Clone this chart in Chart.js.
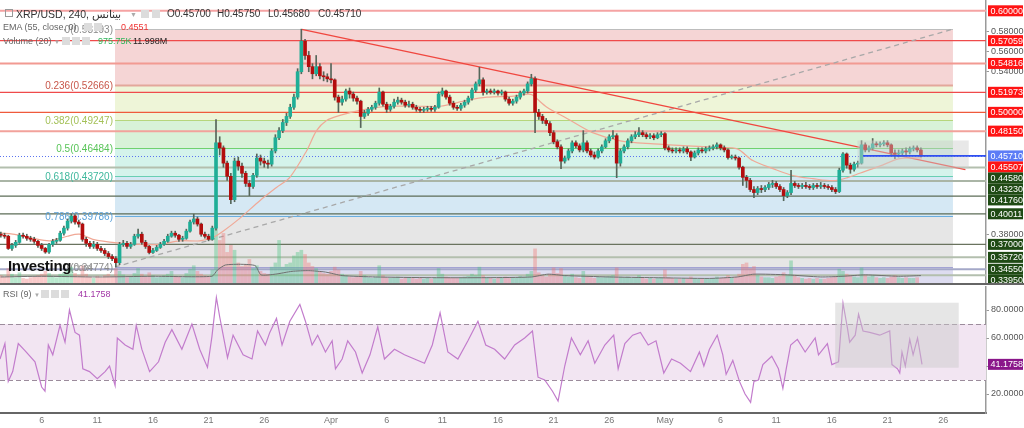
<!DOCTYPE html>
<html lang="en">
<head>
<meta charset="utf-8">
<title>XRP/USD 240</title>
<script src="https://cdn.jsdelivr.net/npm/chart.js@4.4.1/dist/chart.umd.min.js"></script>
<style>
  html, body { margin: 0; padding: 0; background: #fff; }
  #wrap { position: relative; width: 1024px; height: 428px; overflow: hidden; font-family: "Liberation Sans", Arial, sans-serif; }
  canvas { position: absolute; left: 0; }
  #priceChart { top: 0; }
  #rsiChart { top: 284px; }
  .txt { position: absolute; white-space: nowrap; line-height: 1; }
  .ico { position: absolute; width: 8px; height: 8px; background: #dcdcdc; }
  .sep { position: absolute; left: 0; height: 2px; background: #666; }
</style>
</head>
<body>
<div id="wrap">
  <canvas id="priceChart" width="1024" height="284"></canvas>
  <canvas id="rsiChart" width="1024" height="144"></canvas>
  <div class="sep" style="top:283px;width:1024px"></div>

  <!-- header -->
  <div class="txt" style="left:5px;top:9px;width:6px;height:6px;border:1px solid #999"></div>
  <div class="txt" style="left:16px;top:9px;font-size:10.5px;color:#333">XRP/USD, 240, <span dir="rtl" style="unicode-bidi:isolate">بينانس</span></div>
  <div class="txt" style="left:130px;top:11px;font-size:7px;color:#aaa">▼</div>
  <div class="ico" style="left:141px;top:10px"></div>
  <div class="ico" style="left:152px;top:10px"></div>
  <div class="txt" style="left:167px;top:9px;font-size:10px;color:#333">O0.45700</div>
  <div class="txt" style="left:217px;top:9px;font-size:10px;color:#333">H0.45750</div>
  <div class="txt" style="left:268px;top:9px;font-size:10px;color:#333">L0.45680</div>
  <div class="txt" style="left:318px;top:9px;font-size:10px;color:#333">C0.45710</div>

  <div class="txt" style="left:3px;top:23px;font-size:9px;color:#666">EMA (55, close, 0)</div>
  <div class="ico" style="left:84px;top:23px"></div>
  <div class="ico" style="left:94px;top:23px"></div>
  <div class="txt" style="left:121px;top:23px;font-size:9px;color:#f03030">0.4551</div>

  <div class="txt" style="left:3px;top:37px;font-size:9px;color:#666">Volume (20) <span style="color:#aaa;font-size:6px">▼</span></div>
  <div class="ico" style="left:62px;top:37px"></div>
  <div class="ico" style="left:72px;top:37px"></div>
  <div class="ico" style="left:82px;top:37px"></div>
  <div class="txt" style="left:98px;top:37px;font-size:9px;color:#2fb45a">975.75K</div>
  <div class="txt" style="left:133px;top:37px;font-size:9px;color:#222">11.998M</div>

  <div class="txt" style="left:8px;top:258px;font-size:15px;font-weight:bold;color:#111;letter-spacing:-0.3px">Investing<span style="font-size:10px;font-weight:normal;color:#999">.com</span></div>

  <!-- RSI header -->
  <div class="txt" style="left:3px;top:290px;font-size:9px;color:#666">RSI (9) <span style="color:#aaa;font-size:6px">▼</span></div>
  <div class="ico" style="left:41px;top:290px"></div>
  <div class="ico" style="left:51px;top:290px"></div>
  <div class="ico" style="left:61px;top:290px"></div>
  <div class="txt" style="left:78px;top:290px;font-size:9px;color:#a236a6">41.1758</div>
</div>

<script>
// time axis: days counted from 1 March 00:00, candles every 8 hours
const startDay = 4 / 3;
const stepDay = 1 / 3;
const firstOpen = 0.380;

const closes = [
  0.379,0.378,0.366, 0.369,0.372,0.379, 0.378,0.376,0.375, 0.373,0.369,0.366, 0.3625,0.370,0.373,
  0.374,0.381,0.386, 0.393,0.398,0.392, 0.390,0.375,0.371, 0.368,0.370,0.366, 0.364,0.361,0.358,
  0.356,0.352,0.370, 0.371,0.368,0.370, 0.378,0.380,0.372, 0.368,0.362,0.364, 0.367,0.370,0.373,
  0.378,0.381,0.379, 0.375,0.376,0.383, 0.392,0.395,0.390, 0.380,0.378,0.375, 0.386,0.470,0.465,
  0.450,0.437,0.414, 0.452,0.447,0.440, 0.430,0.427,0.438, 0.455,0.452,0.450, 0.449,0.462,0.475,
  0.482,0.490,0.496, 0.505,0.515,0.540, 0.570,0.556,0.545, 0.538,0.545,0.536, 0.535,0.533,0.532,
  0.515,0.510,0.513, 0.521,0.518,0.514, 0.511,0.496,0.499, 0.503,0.505,0.509, 0.520,0.508,0.503,
  0.506,0.510,0.512, 0.510,0.507,0.508, 0.505,0.503,0.502, 0.503,0.504,0.503, 0.505,0.518,0.521,
  0.515,0.509,0.505, 0.504,0.507,0.510, 0.514,0.522,0.528, 0.532,0.520,0.521, 0.520,0.521,0.519,
  0.520,0.513,0.509, 0.511,0.515,0.519, 0.521,0.528,0.533, 0.500,0.496,0.492, 0.489,0.480,0.471,
  0.466,0.452,0.455, 0.462,0.470,0.467, 0.463,0.470,0.462, 0.458,0.456,0.462, 0.466,0.472,0.476,
  0.477,0.450,0.462, 0.466,0.472,0.476, 0.478,0.480,0.478, 0.476,0.477,0.475, 0.478,0.479,0.465,
  0.463,0.462,0.463, 0.462,0.464,0.461, 0.456,0.460,0.463, 0.462,0.464,0.465, 0.466,0.468,0.465,
  0.463,0.4555,0.456, 0.455,0.446,0.436, 0.433,0.424,0.421, 0.425,0.424,0.426, 0.429,0.430,0.427,
  0.424,0.418,0.421, 0.430,0.428,0.427, 0.428,0.427,0.426, 0.428,0.427,0.428, 0.427,0.426,0.424,
  0.422,0.443,0.459, 0.448,0.444,0.449, 0.450,0.468,0.463, 0.465,0.469,0.468, 0.469,0.470,0.468,
  0.460,0.459,0.460, 0.462,0.461,0.464, 0.465,0.463,0.4571
];

const highs = [
  0.382,0.381,0.379, 0.371,0.374,0.381, 0.381,0.380,0.378, 0.377,0.374,0.371, 0.367,0.371,0.375,
  0.376,0.383,0.388, 0.395,0.400,0.399, 0.394,0.391,0.377, 0.373,0.373,0.372, 0.368,0.366,0.363,
  0.360,0.358,0.372, 0.374,0.373,0.372, 0.380,0.385,0.382, 0.374,0.369,0.366, 0.369,0.372,0.375,
  0.380,0.383,0.383, 0.380,0.378,0.385, 0.394,0.3997,0.397, 0.391,0.382,0.380, 0.388,0.493,0.476,
  0.467,0.452,0.440, 0.455,0.456,0.450, 0.442,0.433,0.440, 0.459,0.458,0.455, 0.453,0.464,0.478,
  0.485,0.493,0.499, 0.508,0.518,0.543, 0.5819,0.572,0.560, 0.548,0.556,0.548, 0.540,0.538,0.548,
  0.533,0.517,0.516, 0.523,0.524,0.520, 0.516,0.512,0.502, 0.505,0.507,0.511, 0.524,0.521,0.510,
  0.508,0.513,0.515, 0.514,0.512,0.511, 0.510,0.507,0.505, 0.505,0.506,0.506, 0.507,0.520,0.524,
  0.522,0.517,0.511, 0.507,0.509,0.512, 0.516,0.524,0.530, 0.5444,0.534,0.523, 0.523,0.523,0.522,
  0.522,0.521,0.515, 0.513,0.517,0.521, 0.523,0.530,0.5375, 0.535,0.503,0.498, 0.494,0.491,0.482,
  0.473,0.468,0.457, 0.464,0.472,0.472, 0.469,0.482,0.472, 0.464,0.461,0.464, 0.468,0.474,0.478,
  0.482,0.479,0.464, 0.468,0.474,0.478, 0.481,0.485,0.482, 0.480,0.479,0.479, 0.480,0.481,0.480,
  0.467,0.465,0.465, 0.465,0.466,0.466, 0.462,0.462,0.465, 0.465,0.466,0.467, 0.468,0.470,0.469,
  0.467,0.464,0.458, 0.458,0.456,0.447, 0.438,0.435,0.427, 0.427,0.428,0.428, 0.431,0.433,0.432,
  0.429,0.426,0.423, 0.443,0.432,0.430, 0.430,0.431,0.429, 0.430,0.430,0.431, 0.430,0.429,0.428,
  0.426,0.445,0.4604, 0.460,0.450,0.451, 0.452,0.472,0.470, 0.467,0.4742,0.471, 0.471,0.472,0.472,
  0.469,0.463,0.463, 0.464,0.465,0.466, 0.467,0.467,0.465
];

const lows = [
  0.377,0.376,0.365, 0.364,0.367,0.371, 0.376,0.374,0.373, 0.371,0.367,0.364, 0.3612,0.361,0.368,
  0.371,0.373,0.379, 0.384,0.391,0.390, 0.387,0.373,0.368, 0.366,0.366,0.364, 0.362,0.359,0.356,
  0.354,0.3478,0.350, 0.368,0.366,0.366, 0.369,0.376,0.370, 0.366,0.3606,0.361, 0.363,0.366,0.369,
  0.372,0.377,0.377, 0.373,0.373,0.375, 0.382,0.390,0.388, 0.378,0.376,0.3735, 0.374,0.384,0.458,
  0.446,0.433,0.410, 0.412,0.443,0.436, 0.427,0.418,0.425, 0.436,0.448,0.446, 0.445,0.447,0.460,
  0.473,0.480,0.487, 0.494,0.503,0.513, 0.538,0.552,0.540, 0.533,0.536,0.533, 0.531,0.530,0.529,
  0.512,0.500,0.507, 0.511,0.514,0.511, 0.508,0.485,0.494, 0.497,0.501,0.503, 0.507,0.506,0.500,
  0.501,0.504,0.508, 0.508,0.505,0.505, 0.503,0.501,0.500, 0.500,0.501,0.501, 0.501,0.504,0.516,
  0.513,0.507,0.503, 0.502,0.502,0.505, 0.508,0.512,0.520, 0.526,0.517,0.518, 0.518,0.518,0.517,
  0.517,0.511,0.507, 0.507,0.509,0.513, 0.517,0.519,0.526, 0.480,0.493,0.489, 0.487,0.477,0.469,
  0.464,0.4446,0.450, 0.453,0.460,0.465, 0.461,0.461,0.460, 0.456,0.454,0.455, 0.460,0.465,0.470,
  0.474,0.4357,0.447, 0.460,0.464,0.470, 0.474,0.476,0.476, 0.474,0.474,0.473, 0.474,0.476,0.463,
  0.461,0.460,0.460, 0.460,0.460,0.459, 0.4525,0.455,0.458, 0.460,0.460,0.462, 0.463,0.464,0.463,
  0.461,0.454,0.454, 0.453,0.444,0.428, 0.426,0.422,0.416, 0.419,0.421,0.422, 0.424,0.426,0.425,
  0.422,0.413,0.416, 0.419,0.426,0.425, 0.425,0.425,0.424, 0.424,0.425,0.425, 0.425,0.424,0.422,
  0.420,0.421,0.441, 0.445,0.440,0.442, 0.446,0.449,0.461, 0.461,0.463,0.466, 0.466,0.467,0.466,
  0.458,0.4545,0.456, 0.458,0.458,0.459, 0.462,0.461,0.456
];

// volume in millions
const volumes = [
  12,10,22, 14,9,16, 8,7,9, 10,12,14, 18,15,11, 9,14,16, 20,24,15, 12,26,14, 10,8,11, 9,12,14,
  11,22,18, 13,9,10, 15,22,14, 10,16,12, 9,10,12, 14,18,11, 10,9,15, 21,26,18, 14,12,11, 20,100,62,
  72,45,55, 48,30,25, 28,35,22, 26,18,15, 14,24,30, 62,24,28, 30,40,45, 48,42,30, 25,22,18, 15,14,18,
  24,20,14, 12,10,9, 10,18,12, 9,8,10, 26,12,9, 8,9,10, 7,8,9, 8,7,9, 7,8,7, 9,22,14,
  10,9,8, 8,9,10, 11,14,12, 24,12,9, 8,7,8, 9,10,8, 8,9,11, 10,14,18, 50,16,12, 10,14,23,
  15,22,12, 10,14,9, 8,18,10, 9,8,10, 9,10,11, 12,23,10, 9,10,8, 9,12,8, 7,8,7, 8,9,20,
  9,8,7, 7,8,7, 10,8,7, 7,8,7, 8,10,8, 9,12,9, 10,14,28, 30,22,25, 12,10,9, 9,8,10,
  11,16,12, 33,12,9, 8,7,8, 7,8,7, 7,8,9, 10,21,18, 14,12,10, 9,23,12, 10,12,9, 8,9,8,
  10,12,9, 8,9,8, 8,9,1
];

const volMaDays = [1.3, 5, 10, 15, 20.3, 20.8, 21.5, 23, 24.2, 24.7, 26, 27.5, 29, 30.5, 32, 35, 40, 45, 49, 50.5, 52, 56, 60, 65, 67.5, 69, 72, 75, 77, 79, 82, 84];
const volMaValues = [10, 11, 10, 11, 11, 20, 27, 28, 26, 13, 14, 18, 19, 17, 12, 10, 9, 9, 10, 14, 12, 10, 9, 8, 10, 14, 13, 10, 11, 13, 11, 12];

const emaDays = [1.26, 2.4, 4.2, 5.75, 7.3, 8.4, 9.6, 11.8, 13.8, 15.6, 17.4, 19.2, 20.4, 21.3, 22.8, 24.6, 26.1, 27.3, 28.8, 29.7,
  30.6, 31.8, 33.6, 36.0, 38.7, 40.8, 43.2, 45.0, 47.4, 48.7, 49.1, 50.4, 52.2, 54.5, 57.0, 60.0, 63.0, 65.9, 67.5, 68.9,
  70.7, 72.5, 74.3, 76.1, 77.4, 78.5, 80.3, 82.1, 84.1];
const emaValues = [0.381, 0.380, 0.376, 0.3735, 0.378, 0.380, 0.375, 0.3714, 0.370, 0.370, 0.3735, 0.3735, 0.377, 0.383, 0.3956, 0.413, 0.426, 0.436, 0.462, 0.482,
  0.492, 0.497, 0.502, 0.5059, 0.506, 0.506, 0.5118, 0.515, 0.516, 0.518, 0.517, 0.505, 0.494, 0.480, 0.472, 0.469, 0.467, 0.4654, 0.464, 0.4525,
  0.4446, 0.4377, 0.4347, 0.4327, 0.4357, 0.440, 0.447, 0.4545, 0.4551];

const rsiDays = [1.26,1.7,2.0,2.4,2.9,3.5,4.4,5.0,5.3,5.6, 6.0,6.65,7.1,7.5,8.0,8.4,8.7,9.3,10.0,10.7,
  11.1,11.6,11.8,12.5,13.2,13.5,14.0,14.7,15.5,16.1, 16.7,17.6,18.5,19.2,19.9,20.3,20.7,21.0,21.7,22.2,
  23.1,23.9,24.4,25.1,25.5,26.1,26.6,27.3,28.2,28.7, 29.3,29.8,30.5,31.1,31.4,32.0,32.5,33.2,33.8,34.5,
  35.2,35.8,36.7,37.6,38.5,39.4,40.1,40.8,41.5,42.4, 43.3,44.2,44.9,45.7,46.6,47.5,48.4,49.1,49.6,50.2,
  50.9,51.4,52.0,52.6,53.4,54.1,54.7,55.6,56.4,56.8, 57.4,58.1,58.8,59.5,60.2,60.9,61.6,62.4,63.3,64.1,
  64.5,65.0,65.7,66.2,66.5,67.1,67.7,68.2,68.7,69.0, 69.4,69.8,70.6,71.2,71.6,71.9,72.3,72.9,73.6,74.5,
  74.8,75.6,76.0,76.6,77.0,77.4,77.6,78.1,78.4,78.8, 79.4,80.3,81.2,81.4,81.9,82.1,82.3,82.6,83.0,83.3,
  83.7,84.1];
const rsiValues = [45,56,29,36,56,51,43,25,22,55, 48,69,57,80,64,62,38,36,31,36,
  40,26,60,55,52,69,52,36,43,57, 66,52,70,52,39,61,89,75,46,62,
  48,45,65,55,64,74,55,72,84,72, 55,62,50,58,38,45,58,50,35,48,
  68,45,52,48,45,42,55,78,50,45, 58,72,55,52,45,55,60,65,32,30,
  22,15,40,60,48,58,42,55,62,38, 56,62,64,55,58,35,45,42,36,50,
  40,52,62,48,34,44,29,20,14,29, 30,41,47,38,24,38,55,59,50,60,
  48,56,41,43,85,67,57,62,77,65, 64,62,65,41,38,35,50,40,59,48,
  60,41.18];

const tickDays = [5, 10, 15, 20, 25, 31, 36, 41, 46, 51, 56, 61, 66, 71, 76, 81, 86];
const tickLabels = ['6', '11', '16', '21', '26', 'Apr', '6', '11', '16', '21', '26', 'May', '6', '11', '16', '21', '26'];
const priceTicks = [0.38, 0.54, 0.56, 0.58];
const rsiTicks = [20, 40, 60, 80];

const redLevels = [0.6, 0.57059, 0.54816, 0.51973, 0.5, 0.4815];
const greenLevels = [0.4458, 0.4323, 0.4176, 0.40011, 0.37, 0.3572, 0.3455, 0.3395];
const lastPrice = 0.4571;
const emaLast = 0.45507;
const rsiLast = 41.1758;

const fibRatios = [0, 0.236, 0.382, 0.5, 0.618, 0.786, 1];
const fibValues = [0.58193, 0.52666, 0.49247, 0.46484, 0.43720, 0.39786, 0.34774];
const fibStart = 11.59, fibEnd = 86.88;

const trendFrom = [28.37, 0.5817], trendTo = [88.0, 0.4436];
const priceBox = [78.3, 88.3, 0.4723, 0.4446];
const rsiBox = [76.3, 87.4, 85.2, 38.8];
const blueLineFrom = 78.8;

const xMin = 1.258, xMax = 89.85;
const yMin = 0.33098, yMax = 0.61063;
const rsiMin = 6.43, rsiMax = 96.43;

Chart.defaults.font.family = '"Liberation Sans", Arial, sans-serif';

// build candle tables
const candleDays = closes.map((c, i) => startDay + i * stepDay);
const opens = closes.map((c, i) => i === 0 ? firstOpen : closes[i - 1]);
const isUp = closes.map((c, i) => c >= opens[i]);

const fibFills = ['#f5d5d5', '#eef5d8', '#d8f2d8', '#d4f3eb', '#d5e8f4', '#e6e6e6'];
const fibLineColors = ['#bdbdbd', '#e3a79b', '#b6d67c', '#6fd16f', '#68cfb3', '#6aaee0', '#a3a3d3'];
const fibTextColors = ['#8a8a8a', '#c8574a', '#a4c158', '#58c458', '#3fb89d', '#5aa0d8', '#8a8a8a'];

function hLine(ctx, a, yPix, color, width, dash) {
  ctx.beginPath();
  ctx.setLineDash(dash || []);
  ctx.strokeStyle = color;
  ctx.lineWidth = width;
  ctx.moveTo(a.left, yPix);
  ctx.lineTo(a.right, yPix);
  ctx.stroke();
  ctx.setLineDash([]);
}

function labelBox(ctx, xLeft, cy, text, bg) {
  ctx.fillStyle = bg;
  ctx.fillRect(xLeft, cy - 5.5, 35, 11);
  ctx.fillStyle = '#fff';
  ctx.font = '9px "Liberation Sans", Arial, sans-serif';
  ctx.textAlign = 'left';
  ctx.textBaseline = 'middle';
  ctx.fillText(text, xLeft + 2.5, cy + 0.5);
}

const priceDecor = {
  id: 'priceDecor',
  beforeDatasetsDraw(chart) {
    const { ctx, chartArea: a, scales: { x, y } } = chart;
    ctx.save();
    ctx.beginPath();
    ctx.rect(a.left, a.top, a.width, a.height);
    ctx.clip();

    // fibonacci zones
    const fx0 = x.getPixelForValue(fibStart), fx1 = x.getPixelForValue(fibEnd);
    for (let i = 0; i < fibValues.length - 1; i++) {
      const yt = y.getPixelForValue(fibValues[i]), yb = y.getPixelForValue(fibValues[i + 1]);
      ctx.fillStyle = fibFills[i];
      ctx.fillRect(fx0, yt, fx1 - fx0, yb - yt);
    }
    const y1 = y.getPixelForValue(fibValues[fibValues.length - 1]);
    ctx.fillStyle = '#dddcf0';
    ctx.fillRect(fx0, y1, fx1 - fx0, a.bottom - y1);
    fibValues.forEach((v, i) => {
      const yp = Math.round(y.getPixelForValue(v)) + 0.5;
      ctx.beginPath();
      ctx.strokeStyle = fibLineColors[i];
      ctx.lineWidth = i === 1 ? 2 : 1.2;
      ctx.moveTo(fx0, yp);
      ctx.lineTo(fx1, yp);
      ctx.stroke();
    });

    // horizontal levels
    const redStyles = [['#f5a3a3', 2], ['#ef4b4b', 1.2], ['#f29a92', 2], ['#ef4b4b', 1.2], ['#ef5a3c', 1.2], ['#f2a29b', 2]];
    redLevels.forEach((v, i) => hLine(ctx, a, y.getPixelForValue(v), redStyles[i][0], redStyles[i][1]));
    const greenStyles = [['#b3bfae', 2], ['#aab5a6', 2], ['#5d6d57', 1.2], ['#5d6d57', 1.2], ['#6a735f', 1.2], ['#b3bfae', 2], ['#a4a8c8', 2], ['#b3bfae', 2]];
    greenLevels.forEach((v, i) => hLine(ctx, a, y.getPixelForValue(v), greenStyles[i][0], greenStyles[i][1]));

    // current price dotted line
    hLine(ctx, a, Math.round(y.getPixelForValue(lastPrice)) + 0.5, '#5b74f0', 1, [1, 2]);

    // fib diagonal (dashed grey)
    ctx.beginPath();
    ctx.setLineDash([5, 4]);
    ctx.strokeStyle = '#a8a8a8';
    ctx.lineWidth = 1.3;
    ctx.moveTo(fx0, y1);
    ctx.lineTo(fx1, y.getPixelForValue(fibValues[0]));
    ctx.stroke();
    ctx.setLineDash([]);

    // red trend line
    ctx.beginPath();
    ctx.strokeStyle = '#f0473f';
    ctx.lineWidth = 1.4;
    ctx.moveTo(x.getPixelForValue(trendFrom[0]), y.getPixelForValue(trendFrom[1]));
    ctx.lineTo(x.getPixelForValue(trendTo[0]), y.getPixelForValue(trendTo[1]));
    ctx.stroke();

    // fib labels
    ctx.font = '10px "Liberation Sans", Arial, sans-serif';
    ctx.textAlign = 'right';
    ctx.textBaseline = 'middle';
    fibValues.forEach((v, i) => {
      ctx.fillStyle = fibTextColors[i];
      ctx.fillText(fibRatios[i] + '(' + v.toFixed(5) + ')', fx0 - 2, y.getPixelForValue(v) + 1);
    });
    ctx.restore();
  },
  afterDatasetsDraw(chart) {
    const { ctx, chartArea: a, scales: { x, y } } = chart;
    ctx.save();
    ctx.beginPath();
    ctx.rect(a.left, a.top, a.width, a.height);
    ctx.clip();
    const bx0 = x.getPixelForValue(priceBox[0]), bx1 = x.getPixelForValue(priceBox[1]);
    const by0 = y.getPixelForValue(priceBox[2]), by1 = y.getPixelForValue(priceBox[3]);
    ctx.fillStyle = 'rgba(205,205,205,0.45)';
    ctx.fillRect(bx0, by0, bx1 - bx0, by1 - by0);
    // blue current price segment
    ctx.beginPath();
    ctx.strokeStyle = '#2f4ff0';
    ctx.lineWidth = 1.6;
    const yp = y.getPixelForValue(lastPrice);
    ctx.moveTo(x.getPixelForValue(blueLineFrom), yp);
    ctx.lineTo(a.right, yp);
    ctx.stroke();
    ctx.restore();
  },
  afterDraw(chart) {
    const { ctx, chartArea: a, scales: { y } } = chart;
    const items = [];
    redLevels.forEach(v => items.push({ v, bg: '#ff1414' }));
    items.push({ v: lastPrice, bg: '#5c7cf6' });
    items.push({ v: emaLast, bg: '#ff1414' });
    greenLevels.forEach(v => items.push({ v, bg: '#1f4a14' }));
    items.forEach(it => { it.py = y.getPixelForValue(it.v); });
    items.sort((p, q) => p.py - q.py);
    let prev = -100;
    ctx.save();
    items.forEach(it => {
      const cy = Math.max(it.py, prev + 11);
      prev = cy;
      labelBox(ctx, a.right + 2, cy, it.v.toFixed(5), it.bg);
    });
    ctx.restore();
  }
};

const rsiDecor = {
  id: 'rsiDecor',
  beforeDatasetsDraw(chart) {
    const { ctx, chartArea: a, scales: { y } } = chart;
    ctx.save();
    const y70 = y.getPixelForValue(70), y30 = y.getPixelForValue(30);
    ctx.fillStyle = '#f2e5f2';
    ctx.fillRect(a.left, y70, a.width, y30 - y70);
    hLine(ctx, a, Math.round(y70) + 0.5, '#9c8c9c', 1, [5, 3]);
    hLine(ctx, a, Math.round(y30) + 0.5, '#9c8c9c', 1, [5, 3]);
    ctx.restore();
  },
  afterDatasetsDraw(chart) {
    const { ctx, scales: { x, y } } = chart;
    ctx.save();
    const bx0 = x.getPixelForValue(rsiBox[0]), bx1 = x.getPixelForValue(rsiBox[1]);
    const by0 = y.getPixelForValue(rsiBox[2]), by1 = y.getPixelForValue(rsiBox[3]);
    ctx.fillStyle = 'rgba(200,200,200,0.45)';
    ctx.fillRect(bx0, by0, bx1 - bx0, by1 - by0);
    ctx.restore();
  },
  afterDraw(chart) {
    const { ctx, chartArea: a, scales: { y } } = chart;
    ctx.save();
    labelBox(ctx, a.right + 2, y.getPixelForValue(rsiLast), rsiLast.toFixed(4), '#8a168a');
    ctx.restore();
  }
};

const tickFont = { size: 9 };

// price pane
new Chart(document.getElementById('priceChart'), {
  type: 'bar',
  data: {
    datasets: [
      {
        label: 'Volume',
        yAxisID: 'yv',
        data: candleDays.map((t, i) => ({ x: t, y: volumes[i] })),
        backgroundColor: isUp.map(u => u ? 'rgba(70,195,125,0.38)' : 'rgba(238,115,115,0.38)'),
        barThickness: 3,
        grouped: false,
        order: 6
      },
      {
        type: 'line',
        label: 'Volume MA',
        yAxisID: 'yv',
        data: volMaDays.map((t, i) => ({ x: t, y: volMaValues[i] })),
        borderColor: '#707070',
        borderWidth: 1,
        pointRadius: 0,
        tension: 0.2,
        order: 5
      },
      {
        type: 'line',
        label: 'EMA 55',
        yAxisID: 'y',
        data: emaDays.map((t, i) => ({ x: t, y: emaValues[i] })),
        borderColor: '#f0a896',
        borderWidth: 1.2,
        pointRadius: 0,
        tension: 0.3,
        order: 4
      },
      {
        label: 'Wicks',
        yAxisID: 'y',
        data: candleDays.map((t, i) => ({ x: t, y: [lows[i], highs[i]] })),
        backgroundColor: '#56665a',
        barThickness: 1,
        grouped: false,
        order: 2
      },
      {
        label: 'Bodies',
        yAxisID: 'y',
        data: candleDays.map((t, i) => ({ x: t, y: [opens[i], closes[i]] })),
        backgroundColor: isUp.map(u => u ? '#1fae97' : '#b30d0d'),
        barThickness: 3,
        minBarLength: 1,
        grouped: false,
        order: 1
      }
    ]
  },
  options: {
    responsive: false,
    animation: false,
    events: [],
    layout: { padding: 0 },
    plugins: { legend: { display: false }, tooltip: { enabled: false } },
    scales: {
      x: { type: 'linear', min: xMin, max: xMax, display: false, offset: false },
      y: {
        type: 'linear', position: 'right', min: yMin, max: yMax,
        grid: { display: true, drawOnChartArea: false, tickLength: 3, color: '#999' },
        border: { display: true, color: '#9a9a9a', width: 1.5 },
        ticks: { font: tickFont, color: '#555', padding: 2, callback: v => Number(v).toFixed(5) },
        afterBuildTicks: s => { s.ticks = priceTicks.map(v => ({ value: v })); },
        afterFit: s => { s.width = 38; s.paddingTop = 0; s.paddingBottom = 0; }
      },
      yv: { type: 'linear', display: false, min: 0, max: 404 }
    }
  },
  plugins: [priceDecor]
});

// RSI pane with date axis
new Chart(document.getElementById('rsiChart'), {
  type: 'line',
  data: {
    datasets: [{
      label: 'RSI (9)',
      data: rsiDays.map((t, i) => ({ x: t, y: rsiValues[i] })),
      borderColor: '#c27ccc',
      borderWidth: 1.2,
      pointRadius: 0,
      tension: 0
    }]
  },
  options: {
    responsive: false,
    animation: false,
    events: [],
    layout: { padding: { top: 3 } },
    plugins: { legend: { display: false }, tooltip: { enabled: false } },
    scales: {
      x: {
        type: 'linear', min: xMin, max: xMax, offset: false,
        grid: { display: false, drawTicks: false },
        border: { display: true, color: '#666', width: 2 },
        ticks: { autoSkip: false, maxRotation: 0, font: tickFont, color: '#777', padding: 2,
          callback: (v, i) => tickLabels[i] },
        afterBuildTicks: s => { s.ticks = tickDays.map(v => ({ value: v })); },
        afterFit: s => { s.height = 15; s.paddingLeft = 0; s.paddingRight = 0; }
      },
      y: {
        type: 'linear', position: 'right', min: rsiMin, max: rsiMax,
        grid: { display: true, drawOnChartArea: false, tickLength: 3, color: '#999' },
        border: { display: true, color: '#9a9a9a', width: 1.5 },
        ticks: { font: tickFont, color: '#555', padding: 2, callback: v => Number(v).toFixed(4) },
        afterBuildTicks: s => { s.ticks = rsiTicks.map(v => ({ value: v })); },
        afterFit: s => { s.width = 38; s.paddingTop = 0; s.paddingBottom = 0; }
      }
    }
  },
  plugins: [rsiDecor]
});
</script>
</body>
</html>
